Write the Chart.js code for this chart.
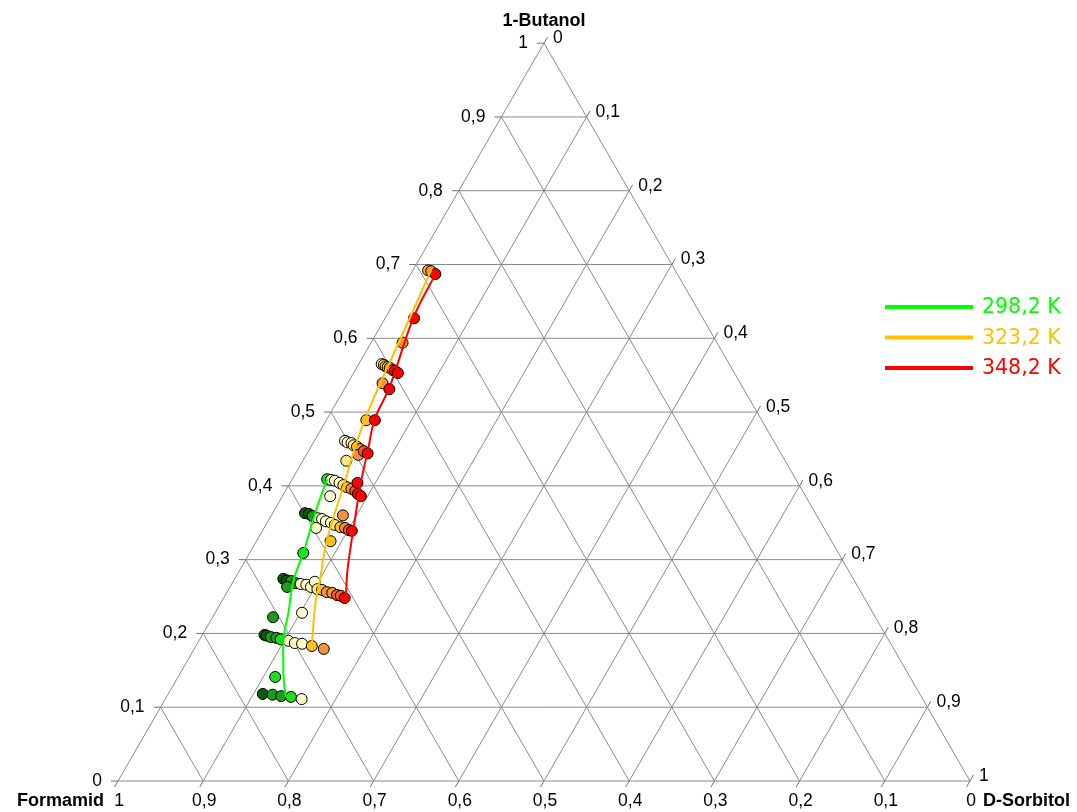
<!DOCTYPE html>
<html>
<head>
<meta charset="utf-8">
<script src="https://cdn.jsdelivr.net/npm/chart.js"></script>
<style>
  html, body { margin: 0; padding: 0; background: #ffffff; }
  #wrap { width: 1077px; height: 812px; position: relative; }
</style>
</head>
<body>
<div id="wrap"><canvas id="ternary" width="1077" height="812"></canvas></div>
<script>
// Ternary phase diagram 1-Butanol / Formamid / D-Sorbitol (mass fractions).
// Every composition is stored as [butanol, sorbitol]; formamid = 1 - butanol - sorbitol.

const componentTop = '1-Butanol';
const componentLeft = 'Formamid';
const componentRight = 'D-Sorbitol';

const tickLabels = ['0', '0,1', '0,2', '0,3', '0,4', '0,5', '0,6', '0,7', '0,8', '0,9', '1'];

const seriesLabels = ['298,2 K', '323,2 K', '348,2 K'];

// Binodal curves
const curve298 = [[0.409, 0.041], [0.367, 0.049], [0.309, 0.063], [0.272, 0.070], [0.228, 0.086],
                  [0.195, 0.097], [0.160, 0.114], [0.137, 0.126], [0.114, 0.140]];
const curve323 = [[0.695, 0.021], [0.598, 0.032], [0.533, 0.039], [0.489, 0.045], [0.453, 0.052],
                  [0.408, 0.063], [0.358, 0.074], [0.320, 0.084], [0.272, 0.101], [0.239, 0.112],
                  [0.183, 0.136]];
const curve348 = [[0.687, 0.029], [0.627, 0.033], [0.533, 0.052], [0.491, 0.056], [0.449, 0.069],
                  [0.404, 0.083], [0.354, 0.101], [0.313, 0.116], [0.282, 0.128], [0.249, 0.143]];

// Measured compositions, grouped by marker class
const darkGreenPts = [[0.363, 0.038], [0.362, 0.043], [0.274, 0.057], [0.272, 0.062],
                      [0.198, 0.073], [0.197, 0.076], [0.118, 0.111]];
const greenPts = [[0.359, 0.049], [0.271, 0.068], [0.268, 0.075], [0.263, 0.067], [0.222, 0.071],
                  [0.195, 0.082], [0.194, 0.089], [0.117, 0.123], [0.115, 0.134]];
const brightGreenPts = [[0.409, 0.041], [0.309, 0.063], [0.192, 0.095], [0.114, 0.146], [0.141, 0.114]];
const paleYellowPts = [[0.565, 0.027], [0.461, 0.036], [0.459, 0.040], [0.458, 0.045],
                       [0.408, 0.046], [0.407, 0.051], [0.404, 0.058], [0.386, 0.056],
                       [0.356, 0.057], [0.355, 0.062], [0.352, 0.068], [0.350, 0.075], [0.343, 0.061],
                       [0.267, 0.081], [0.266, 0.088], [0.263, 0.095], [0.270, 0.096], [0.228, 0.102],
                       [0.190, 0.105], [0.187, 0.114], [0.186, 0.123], [0.111, 0.160]];
const yellowPts = [[0.564, 0.030], [0.455, 0.049], [0.401, 0.064], [0.347, 0.081], [0.260, 0.104],
                   [0.434, 0.051]];
const goldPts = [[0.692, 0.018], [0.562, 0.033], [0.561, 0.036], [0.453, 0.054], [0.398, 0.070],
                 [0.344, 0.089], [0.325, 0.087], [0.259, 0.110], [0.183, 0.136], [0.489, 0.047]];
const orangePts = [[0.691, 0.022], [0.594, 0.037], [0.560, 0.039], [0.539, 0.041], [0.450, 0.059],
                   [0.442, 0.061], [0.396, 0.076], [0.343, 0.095], [0.360, 0.084], [0.256, 0.117],
                   [0.255, 0.124], [0.179, 0.152]];
const orangeRedPts = [[0.557, 0.044], [0.447, 0.065], [0.393, 0.082], [0.340, 0.101],
                      [0.252, 0.131], [0.251, 0.136]];
const redPts = [[0.687, 0.029], [0.627, 0.034], [0.556, 0.047], [0.553, 0.052], [0.531, 0.053],
                [0.489, 0.057], [0.444, 0.071], [0.389, 0.087], [0.386, 0.092], [0.404, 0.079],
                [0.339, 0.105], [0.248, 0.142]];

// ---------------------------------------------------------------------------
const H = Math.sqrt(3) / 2;
function toXY(pair) {
  const b = pair[0], s = pair[1];
  return { x: s + b / 2, y: b * H };
}

const lineColors = ['#00ff00', '#ffc000', '#ff0000'];

function curveDataset(points, color, label) {
  return {
    label: label,
    data: points.map(toXY),
    showLine: true,
    borderColor: color,
    borderWidth: 2,
    pointRadius: 0,
    pointHoverRadius: 0,
    tension: 0.4,
    fill: false,
    order: 0
  };
}

function markerDataset(points, color, order) {
  return {
    data: points.map(toXY),
    showLine: false,
    backgroundColor: color,
    borderColor: '#000000',
    borderWidth: 1,
    pointRadius: 5.5,
    pointHoverRadius: 5.5,
    order: order
  };
}

// Triangle frame, grid, tick marks, tick labels, corner names, legend
const ternaryFrame = {
  id: 'ternaryFrame',
  beforeDatasetsDraw(chart) {
    const ctx = chart.ctx;
    const xs = chart.scales.x, ys = chart.scales.y;
    const px = (b, s) => ({ x: xs.getPixelForValue(s + b / 2), y: ys.getPixelForValue(b * H) });

    ctx.save();
    ctx.strokeStyle = '#8a8a8a';
    ctx.lineWidth = 1;
    ctx.beginPath();
    for (let k = 0; k <= 10; k++) {
      const v = k / 10;
      // butanol = const
      let a = px(v, 0), c = px(v, 1 - v);
      ctx.moveTo(a.x, a.y); ctx.lineTo(c.x, c.y);
      // sorbitol = const
      a = px(0, v); c = px(1 - v, v);
      ctx.moveTo(a.x, a.y); ctx.lineTo(c.x, c.y);
      // formamid = const
      a = px(0, 1 - v); c = px(1 - v, 0);
      ctx.moveTo(a.x, a.y); ctx.lineTo(c.x, c.y);
    }
    ctx.stroke();

    // tick marks
    const len = 7;
    ctx.strokeStyle = '#707070';
    ctx.beginPath();
    for (let k = 0; k <= 10; k++) {
      const v = k / 10;
      let p = px(v, 0);
      ctx.moveTo(p.x, p.y); ctx.lineTo(p.x - len, p.y);
      p = px(1 - v, v);
      ctx.moveTo(p.x, p.y); ctx.lineTo(p.x + len * 0.5, p.y - len * H);
      p = px(0, 1 - v);
      ctx.moveTo(p.x, p.y); ctx.lineTo(p.x - len * 0.5, p.y + len * H);
    }
    ctx.stroke();

    // tick labels
    ctx.fillStyle = '#000000';
    ctx.font = '17.5px "Liberation Sans", Arial, sans-serif';
    for (let k = 0; k <= 10; k++) {
      const v = k / 10;
      let p = px(v, 0);
      ctx.textAlign = 'right'; ctx.textBaseline = 'middle';
      ctx.fillText(tickLabels[k], p.x - 16, p.y);
      p = px(1 - v, v);
      ctx.textAlign = 'left';
      ctx.fillText(tickLabels[k], p.x + 9, p.y - 5);
      p = px(0, 1 - v);
      ctx.textAlign = 'center';
      ctx.fillText(tickLabels[k], p.x + 1, p.y + 20);
    }

    // component names
    ctx.font = 'bold 18px "Liberation Sans", Arial, sans-serif';
    let t = px(1, 0);
    ctx.textAlign = 'center'; ctx.textBaseline = 'middle';
    ctx.fillText(componentTop, t.x, t.y - 22);
    t = px(0, 0);
    ctx.textAlign = 'right';
    ctx.fillText(componentLeft, t.x - 14, t.y + 20);
    t = px(0, 1);
    ctx.textAlign = 'left';
    ctx.fillText(componentRight, t.x + 13, t.y + 20);
    ctx.restore();
  },
  afterDraw(chart) {
    const ctx = chart.ctx;
    ctx.save();
    ctx.font = '20.5px "DejaVu Sans", Verdana, sans-serif';
    ctx.textAlign = 'left';
    ctx.textBaseline = 'middle';
    const x0 = 885, x1 = 973, yTop = 307, gap = 30.5;
    seriesLabels.forEach((lab, i) => {
      const y = yTop + i * gap;
      ctx.strokeStyle = lineColors[i];
      ctx.lineWidth = 4;
      ctx.beginPath();
      ctx.moveTo(x0, y); ctx.lineTo(x1, y);
      ctx.stroke();
      ctx.fillStyle = lineColors[i];
      ctx.fillText(lab, 982, y + 1);
    });
    ctx.restore();
  }
};

// Pixel geometry of the triangle: base 852 px, left corner at (118, 781)
const side = 852, left = 118, base = 781;
const W = 1077, Hpx = 812;

new Chart(document.getElementById('ternary'), {
  type: 'scatter',
  data: {
    datasets: [
      curveDataset(curve298, lineColors[0], seriesLabels[0]),
      curveDataset(curve323, lineColors[1], seriesLabels[1]),
      curveDataset(curve348, lineColors[2], seriesLabels[2]),
      markerDataset(redPts, '#ff0000', 1),
      markerDataset(orangeRedPts, '#f65a22', 2),
      markerDataset(orangePts, '#f39240', 3),
      markerDataset(goldPts, '#ffc020', 4),
      markerDataset(yellowPts, '#ffe680', 5),
      markerDataset(paleYellowPts, '#ffffcc', 6),
      markerDataset(brightGreenPts, '#22dd22', 7),
      markerDataset(greenPts, '#1e9a1e', 8),
      markerDataset(darkGreenPts, '#0a5c0a', 9)
    ]
  },
  options: {
    responsive: false,
    animation: false,
    events: [],
    layout: { padding: 0, autoPadding: false },
    plugins: { legend: { display: false }, tooltip: { enabled: false } },
    scales: {
      x: { type: 'linear', display: false, min: -left / side, max: (W - left) / side },
      y: { type: 'linear', display: false, min: -(Hpx - base) / side, max: base / side }
    }
  },
  plugins: [ternaryFrame]
});
</script>
</body>
</html>
